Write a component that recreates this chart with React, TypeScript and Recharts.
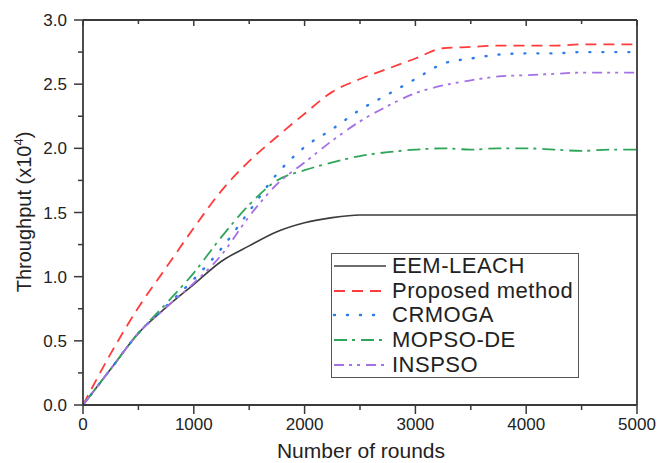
import React from 'react';
import { LineChart, Line, XAxis, YAxis, Legend } from 'recharts';

const rounds = [0, 250, 500, 750, 1000, 1250, 1500, 1750, 2000, 2250, 2500, 2750, 3000, 3250, 3500, 3750, 4000, 4250, 4500, 4750, 5000];
const eemLeach = [0, 0.28, 0.56, 0.76, 0.94, 1.12, 1.24, 1.35, 1.42, 1.46, 1.48, 1.48, 1.48, 1.48, 1.48, 1.48, 1.48, 1.48, 1.48, 1.48, 1.48];
const proposed = [0, 0.40, 0.76, 1.07, 1.38, 1.67, 1.90, 2.09, 2.27, 2.44, 2.54, 2.62, 2.70, 2.78, 2.79, 2.80, 2.80, 2.80, 2.81, 2.81, 2.81];
const crmoga = [0, 0.28, 0.56, 0.77, 0.98, 1.22, 1.51, 1.80, 2.01, 2.15, 2.30, 2.42, 2.54, 2.66, 2.70, 2.73, 2.74, 2.74, 2.75, 2.75, 2.75];
const mopsoDe = [0, 0.28, 0.56, 0.79, 1.03, 1.31, 1.56, 1.75, 1.83, 1.89, 1.94, 1.97, 1.99, 2.00, 1.99, 2.00, 2.00, 1.99, 1.98, 1.99, 1.99];
const inspso = [0, 0.28, 0.56, 0.76, 0.95, 1.17, 1.47, 1.72, 1.89, 2.06, 2.21, 2.33, 2.43, 2.49, 2.53, 2.56, 2.57, 2.58, 2.59, 2.59, 2.59];

const xTicks = [0, 500, 1000, 1500, 2000, 2500, 3000, 3500, 4000, 4500, 5000];
const yTicks = [0, 0.25, 0.5, 0.75, 1, 1.25, 1.5, 1.75, 2, 2.25, 2.5, 2.75, 3];

const data = rounds.map((r, i) => ({
  rounds: r,
  eem: eemLeach[i],
  proposed: proposed[i],
  crmoga: crmoga[i],
  mopso: mopsoDe[i],
  inspso: inspso[i],
}));

const FONT = '"Liberation Sans", Arial, sans-serif';
const AX = '#3a3a3a';
const TXT = '#222';

const series = [
  { key: 'eem', name: 'EEM-LEACH', color: '#3c3c3c', dash: undefined as string | undefined, width: 1.6, cap: 'butt' },
  { key: 'proposed', name: 'Proposed method', color: '#ff3b3b', dash: '11 7', width: 1.8, cap: 'butt' },
  { key: 'crmoga', name: 'CRMOGA', color: '#2b7de9', dash: '1 12', width: 2.4, cap: 'round' },
  { key: 'mopso', name: 'MOPSO-DE', color: '#2ea65a', dash: '13 5 3 6', width: 1.8, cap: 'butt' },
  { key: 'inspso', name: 'INSPSO', color: '#a66fe6', dash: '10 5 3 5 3 6', width: 1.8, cap: 'butt' },
];

const isMajorX = (v: number) => v % 1000 === 0;
const isMajorY = (v: number) => Math.abs(v * 2 - Math.round(v * 2)) < 1e-6;

const BottomTick = (props: any) => {
  const { x, y, payload } = props;
  const major = isMajorX(payload.value);
  return (
    <g>
      <line x1={x} y1={y} x2={x} y2={y + (major ? 9 : 5)} stroke={AX} strokeWidth={1.5} />
      {major && (
        <text x={x} y={y + 25} textAnchor="middle" fontFamily={FONT} fontSize={17} fill={TXT}>
          {payload.value}
        </text>
      )}
    </g>
  );
};

const LeftTick = (props: any) => {
  const { x, y, payload } = props;
  const major = isMajorY(payload.value);
  return (
    <g>
      <line x1={x - (major ? 9 : 5)} y1={y} x2={x} y2={y} stroke={AX} strokeWidth={1.5} />
      {major && (
        <text x={x - 16} y={y + 6} textAnchor="end" fontFamily={FONT} fontSize={17} fill={TXT}>
          {payload.value.toFixed(1)}
        </text>
      )}
    </g>
  );
};

const TopTick = (props: any) => {
  const { x, y, payload } = props;
  const major = isMajorX(payload.value);
  return <line x1={x} y1={y} x2={x} y2={y + (major ? 6 : 4)} stroke={AX} strokeWidth={1.5} />;
};

const RightTick = (props: any) => {
  const { x, y, payload } = props;
  const major = isMajorY(payload.value);
  return <line x1={x - (major ? 7 : 5)} y1={y} x2={x} y2={y} stroke={AX} strokeWidth={1.5} />;
};

const LegendBox = () => (
  <div
    style={{
      width: 248,
      height: 125,
      boxSizing: 'border-box',
      border: '1px solid #555',
      background: '#fff',
      fontFamily: FONT,
      fontSize: 22,
      letterSpacing: 0.5,
      color: TXT,
    }}
  >
    {series.map((s) => (
      <div key={s.key} style={{ height: 24.6, display: 'flex', alignItems: 'center' }}>
        <svg width={60} height={10} style={{ flex: 'none' }}>
          <line
            x1={2}
            y1={5}
            x2={54}
            y2={5}
            stroke={s.color}
            strokeWidth={s.width}
            strokeDasharray={s.dash}
            strokeLinecap={s.cap as any}
          />
        </svg>
        <span style={{ lineHeight: '24px', whiteSpace: 'nowrap' }}>{s.name}</span>
      </div>
    ))}
  </div>
);

const YLabel = () => (
  <text
    x={31}
    y={212}
    transform="rotate(-90, 31, 212)"
    textAnchor="middle"
    fontFamily={FONT}
    fontSize={20}
    fill={TXT}
  >
    Throughput (x10<tspan dy={-8} fontSize={13}>4</tspan>
    <tspan dy={8}>)</tspan>
  </text>
);

const XLabel = () => (
  <text x={361} y={458} textAnchor="middle" fontFamily={FONT} fontSize={21} fill={TXT}>
    Number of rounds
  </text>
);

export default function App() {
  return (
    <div style={{ position: 'absolute', left: 0, top: 0, width: 661, height: 463, background: '#fff' }}>
      <LineChart width={661} height={463} data={data} margin={{ top: 20, right: 24, left: 0, bottom: 0 }}>
        <XAxis
          dataKey="rounds"
          type="number"
          domain={[0, 5000]}
          ticks={xTicks}
          interval={0}
          height={58}
          tickSize={0}
          tickMargin={0}
          tickLine={false}
          tick={<BottomTick />}
          axisLine={{ stroke: AX, strokeWidth: 1.8 }}
          label={<XLabel />}
        />
        <XAxis
          xAxisId="top"
          orientation="top"
          mirror
          dataKey="rounds"
          type="number"
          domain={[0, 5000]}
          ticks={xTicks}
          interval={0}
          height={1}
          tickSize={0}
          tickMargin={0}
          tickLine={false}
          tick={<TopTick />}
          axisLine={{ stroke: AX, strokeWidth: 1.8 }}
        />
        <YAxis
          type="number"
          domain={[0, 3]}
          ticks={yTicks}
          interval={0}
          width={83}
          tickSize={0}
          tickMargin={0}
          tickLine={false}
          tick={<LeftTick />}
          axisLine={{ stroke: AX, strokeWidth: 1.8 }}
          label={<YLabel />}
        />
        <YAxis
          yAxisId="right"
          orientation="right"
          mirror
          type="number"
          domain={[0, 3]}
          ticks={yTicks}
          interval={0}
          width={1}
          tickSize={0}
          tickMargin={0}
          tickLine={false}
          tick={<RightTick />}
          axisLine={{ stroke: AX, strokeWidth: 1.8 }}
        />
        <Legend
          layout="vertical"
          align="center"
          verticalAlign="middle"
          content={<LegendBox />}
          wrapperStyle={{ left: 331, top: 253, width: 248, height: 125 }}
        />
        {series.map((s) => (
          <Line
            key={s.key}
            dataKey={s.key}
            name={s.name}
            type="monotone"
            stroke={s.color}
            strokeWidth={s.width}
            strokeDasharray={s.dash}
            strokeLinecap={s.cap as any}
            dot={false}
            activeDot={false}
            isAnimationActive={false}
          />
        ))}
      </LineChart>
    </div>
  );
}
